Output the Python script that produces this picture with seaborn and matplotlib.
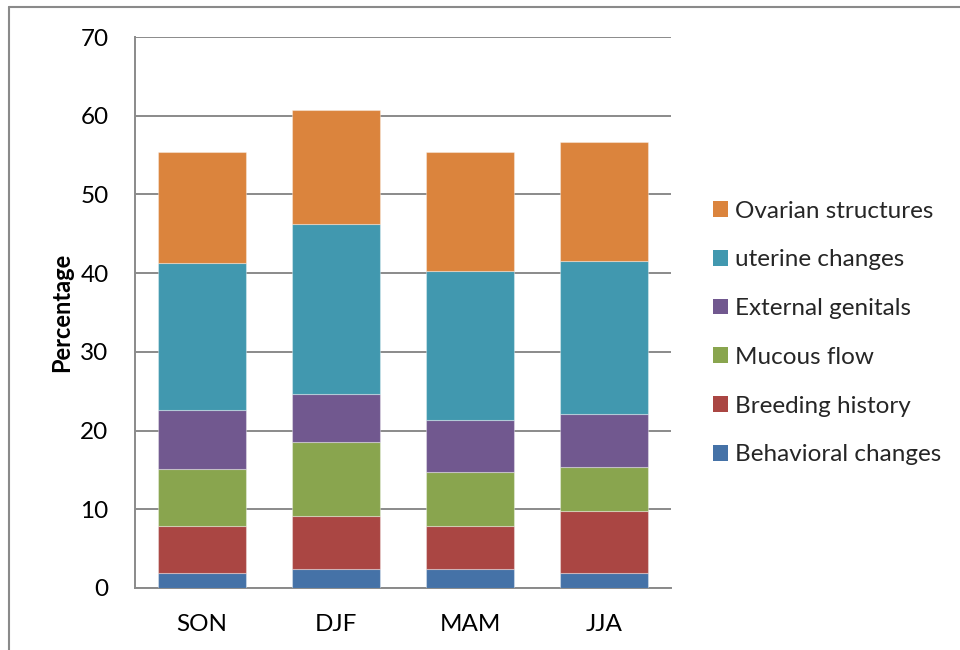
import matplotlib
matplotlib.use("Agg")
import matplotlib.pyplot as plt
from matplotlib.lines import Line2D
from matplotlib.patches import Patch
import numpy as np
import pandas as pd
import seaborn as sns

# Seasons and the share (%) of each heat-detection sign, stacked bottom to top
seasons = ["SON", "DJF", "MAM", "JJA"]
behavioral_changes = [1.9, 2.4, 2.4, 1.9]
breeding_history = [6.0, 6.8, 5.5, 7.9]
mucous_flow = [7.2, 9.3, 6.8, 5.6]
external_genitals = [7.5, 6.2, 6.7, 6.7]
uterine_changes = [18.7, 21.6, 18.9, 19.4]
ovarian_structures = [14.1, 14.4, 15.1, 15.1]

series_names = ["Behavioral changes", "Breeding history", "Mucous flow",
                "External genitals", "uterine changes", "Ovarian structures"]
series_values = [behavioral_changes, breeding_history, mucous_flow,
                 external_genitals, uterine_changes, ovarian_structures]
colors = ["#4572A7", "#AA4643", "#89A54E", "#71588F", "#4198AF", "#DB843D"]

sns.set_theme(style="white")
plt.rcParams["font.family"] = ["Lato", "DejaVu Sans"]

fig = plt.figure(figsize=(9.6, 6.5), dpi=100)
ax = fig.add_axes([135 / 960, 62 / 650, 536 / 960, 551 / 650])

bottom = np.zeros(len(seasons))
for name, vals, col in zip(series_names, series_values, colors):
    df = pd.DataFrame({"season": seasons, "value": vals})
    sns.barplot(data=df, x="season", y="value", order=seasons, color=col,
                width=0.65, bottom=bottom.copy(), ax=ax, zorder=3,
                edgecolor=(1, 1, 1, 0.35), linewidth=0.8, saturation=1)
    bottom += np.array(vals)

ax.set_ylim(0, 70)
ax.set_xlim(-0.5, 3.5)
ax.set_yticks(range(0, 71, 10))
ax.yaxis.grid(True, color="#8a8a8a", linewidth=1.4, zorder=0)
ax.xaxis.grid(False)
ax.set_axisbelow(True)

for side in ["top", "right"]:
    ax.spines[side].set_visible(False)
for side in ["left", "bottom"]:
    ax.spines[side].set_color("#8a8a8a")
    ax.spines[side].set_linewidth(1.4)

ax.tick_params(axis="y", length=0, pad=19, labelsize=17.5, labelcolor="black")
ax.tick_params(axis="x", length=0, pad=19, labelsize=17.5, labelcolor="black")
ax.set_xlabel("")
ax.set_ylabel("Percentage", fontsize=17, fontweight="bold", color="black")
ax.yaxis.set_label_coords(-0.116, 0.5)

handles = [Patch(facecolor=c, edgecolor="none") for c in colors[::-1]]
fig.legend(handles, series_names[::-1], loc="upper left",
           bbox_to_anchor=(703 / 960, 1 - 191 / 650), frameon=False,
           fontsize=17.5, handlelength=0.62, handleheight=0.62,
           handletextpad=0.3, labelspacing=1.14, borderaxespad=0)

# chart-area frame (left and top edges)
frame_color = "#8a8a8a"
fig.add_artist(Line2D([8.5 / 960, 8.5 / 960], [0, 1 - 7 / 650],
                      transform=fig.transFigure, color=frame_color, linewidth=1.5))
fig.add_artist(Line2D([8.5 / 960, 1], [1 - 7 / 650, 1 - 7 / 650],
                      transform=fig.transFigure, color=frame_color, linewidth=1.5))

fig.savefig("out.png", dpi=100, facecolor="white")
